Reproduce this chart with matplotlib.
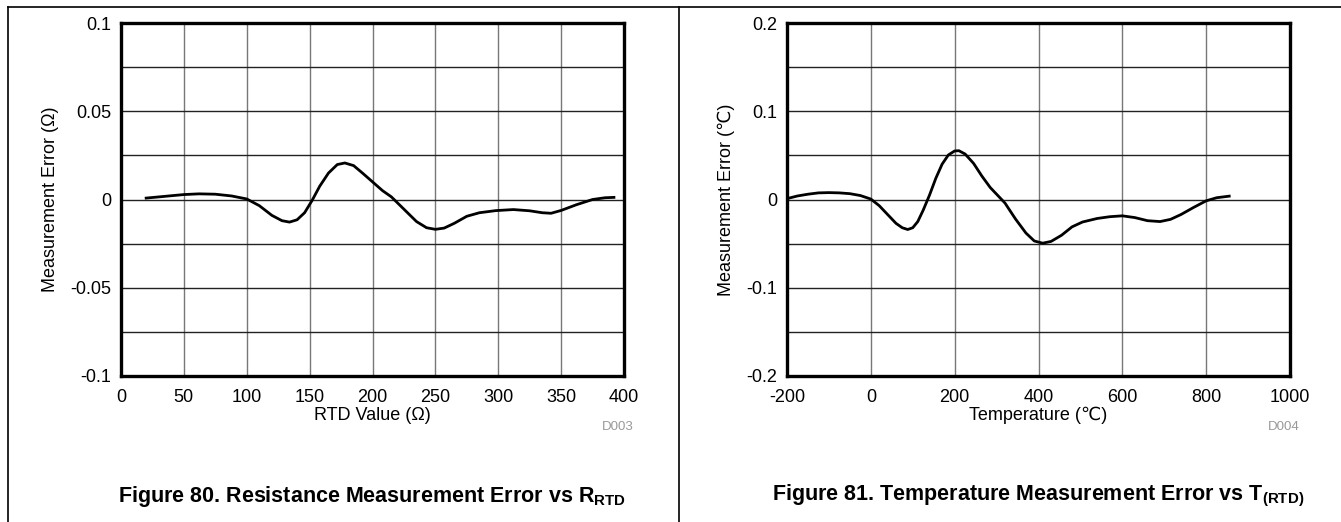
"""plot.py - RTD resistance / temperature measurement error (two panels)."""
import matplotlib
matplotlib.use("Agg")
import matplotlib.pyplot as plt
from matplotlib.lines import Line2D
from matplotlib.ticker import MultipleLocator, FuncFormatter

plt.rcParams["font.family"] = ["Liberation Sans", "DejaVu Sans"]
plt.rcParams["axes.unicode_minus"] = False
plt.rcParams["mathtext.fontset"] = "custom"
plt.rcParams["mathtext.rm"] = "Liberation Sans"
plt.rcParams["mathtext.bf"] = "Liberation Sans:bold"

# left panel: resistance error vs RTD value
r_rtd = [20, 35, 50, 62, 75, 88, 100, 110, 120, 128, 134, 140, 146, 152, 158,
         165, 172, 178, 185, 192, 200, 208, 215, 225, 235, 243, 250, 257, 265,
         275, 285, 298, 312, 325, 335, 342, 350, 362, 375, 385, 392]
r_err = [0.0008, 0.0018, 0.0028, 0.0032, 0.0030, 0.0020, 0.0003, -0.0035,
         -0.0090, -0.0120, -0.0128, -0.0115, -0.0075, -0.0005, 0.0075, 0.0150,
         0.0198, 0.0207, 0.0192, 0.0150, 0.0100, 0.0050, 0.0015, -0.0055,
         -0.0125, -0.0160, -0.0169, -0.0162, -0.0135, -0.0095, -0.0075,
         -0.0063, -0.0057, -0.0064, -0.0075, -0.0078, -0.0062, -0.0030,
         0.0000, 0.0010, 0.0012]

# right panel: temperature error vs temperature
temp = [-200, -175, -150, -125, -100, -75, -50, -25, 0, 20, 40, 60, 75, 88,
        100, 112, 125, 140, 155, 170, 185, 200, 210, 225, 245, 265, 285, 300,
        320, 345, 370, 390, 410, 430, 455, 480, 505, 540, 570, 600, 630, 660,
        690, 715, 740, 770, 800, 825, 855]
t_err = [0.0010, 0.0040, 0.0060, 0.0075, 0.0078, 0.0075, 0.0066, 0.0045,
         0.0005, -0.0070, -0.0170, -0.0270, -0.0320, -0.0340, -0.0320,
         -0.0250, -0.0120, 0.0050, 0.0240, 0.0400, 0.0505, 0.0550, 0.0553,
         0.0515, 0.0410, 0.0265, 0.0135, 0.0060, -0.0040, -0.0220, -0.0380,
         -0.0470, -0.0495, -0.0475, -0.0405, -0.0310, -0.0255, -0.0215,
         -0.0195, -0.0185, -0.0205, -0.0240, -0.0250, -0.0225, -0.0170,
         -0.0090, -0.0015, 0.0020, 0.0038]

W, H = 1341, 522
fig = plt.figure(figsize=(W / 100, H / 100), dpi=100)


def px(x0, y0, x1, y1):
    return [x0 / W, 1 - y1 / H, (x1 - x0) / W, (y1 - y0) / H]


# page frame lines
for xs, ys in [((8, 8), (7, H)), ((8, W), (7, 7)), ((679, 679), (7, H))]:
    fig.add_artist(Line2D([x / W for x in xs], [1 - y / H for y in ys],
                          color="black", lw=1.2))

fmt = FuncFormatter(lambda v, _: "%g" % round(v, 6))


def panel(rect, x, y, xlim, xstep, ylim, ystep, xlabel, ylabel, code, caption):
    ax = fig.add_axes(px(*rect))
    ax.plot(x, y, color="black", lw=2.0, zorder=3)
    ax.set_xlim(*xlim); ax.set_ylim(*ylim)
    ax.xaxis.set_major_locator(MultipleLocator(xstep))
    ax.yaxis.set_major_locator(MultipleLocator(ystep))
    ax.yaxis.set_minor_locator(MultipleLocator(ystep / 2))
    ax.xaxis.set_major_formatter(fmt); ax.yaxis.set_major_formatter(fmt)
    ax.grid(axis="x", which="major", color="#777777", lw=1.0)
    ax.grid(axis="y", which="both", color="#222222", lw=1.0)
    ax.tick_params(which="both", length=0, labelsize=13)
    ax.tick_params(axis="x", pad=9)
    ax.tick_params(axis="y", pad=7)
    for s in ax.spines.values():
        s.set_linewidth(2.4)
    ax.set_xlabel(xlabel, fontsize=13, labelpad=1)
    ax.set_ylabel(ylabel, fontsize=13, labelpad=8)
    ax.text(1.02, -0.145, code, transform=ax.transAxes, ha="right", va="center",
            fontsize=9.5, color="#999999")
    ax.text(0.5, -0.34, caption, transform=ax.transAxes, ha="center",
            va="center", fontsize=15.5, fontweight="bold")
    return ax


panel((121, 23, 624, 376), r_rtd, r_err, (0, 400), 50, (-0.1, 0.1), 0.05,
      "RTD Value (Ω)", "Measurement Error (Ω)", "D003",
      r"Figure 80. Resistance Measurement Error vs $\mathbf{R_{RTD}}$")
panel((787, 23, 1290, 376), temp, t_err, (-200, 1000), 200, (-0.2, 0.2), 0.1,
      "Temperature (℃)", "Measurement Error (℃)", "D004",
      r"Figure 81. Temperature Measurement Error vs $\mathbf{T_{(RTD)}}$")

fig.savefig("out.png", dpi=100)
